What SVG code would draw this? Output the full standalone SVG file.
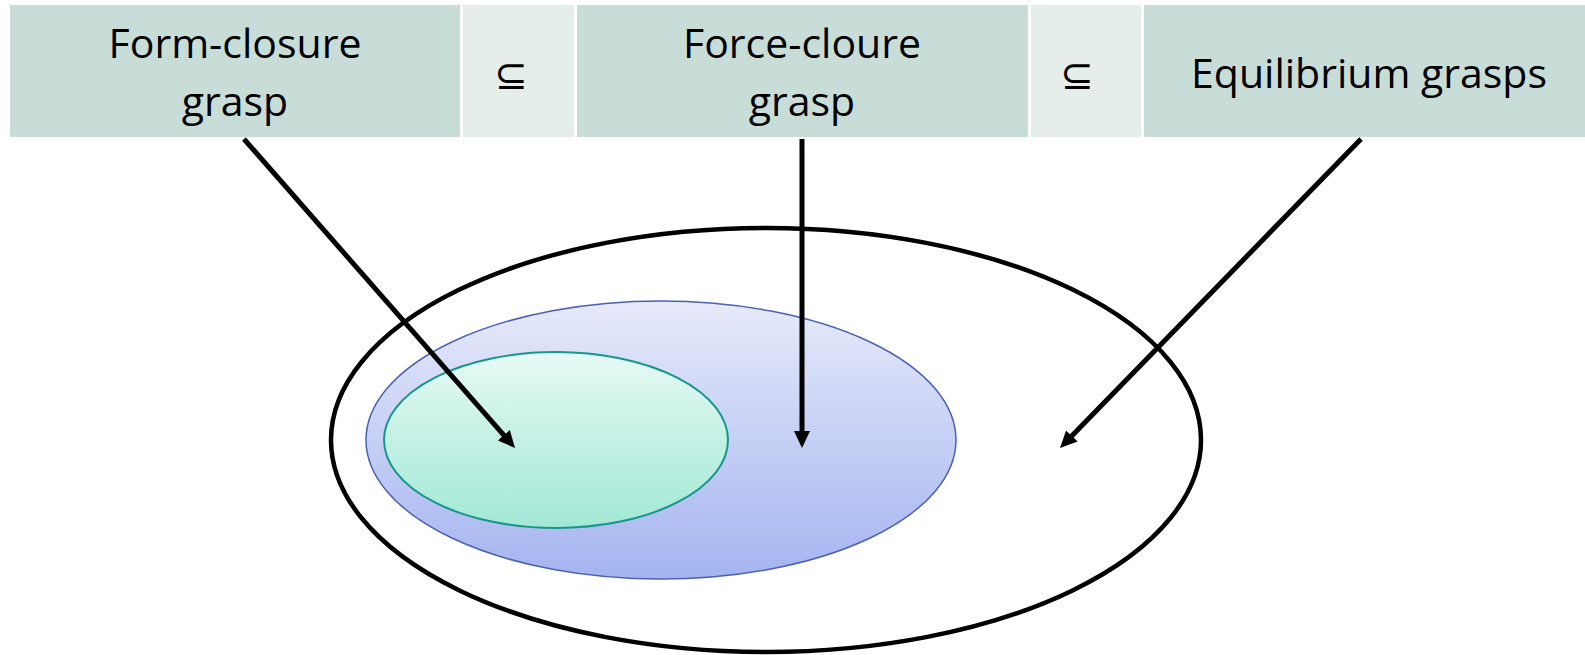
<svg xmlns="http://www.w3.org/2000/svg" width="1585" height="655" viewBox="0 0 1585 655">
  <style>
    .cell { fill: #C9DDD8; }
    .gap { fill: #E6EEEB; }
    .lbl { font-family: "Open Sans", "Liberation Sans", sans-serif; font-size: 41px; fill: #000; text-anchor: middle; }
    .sym { font-family: "DejaVu Sans", sans-serif; font-size: 40px; fill: #000; text-anchor: middle; }
    .conn { stroke: #000; stroke-width: 5; fill: none; marker-end: url(#ah); }
  </style>
  <defs>
    <marker id="ah" markerUnits="userSpaceOnUse" markerWidth="17" markerHeight="16" viewBox="0 0 17 16" refX="2" refY="8" orient="auto">
      <path d="M0,0 L17,8 L0,16 z" fill="#000"/>
    </marker>
    <linearGradient id="gBlue" x1="0" y1="0" x2="0" y2="1">
      <stop offset="0" stop-color="#E7EAFA"/>
      <stop offset="1" stop-color="#A4B4F0"/>
    </linearGradient>
    <linearGradient id="gGreen" x1="0" y1="0" x2="0" y2="1">
      <stop offset="0" stop-color="#E6FAF5"/>
      <stop offset="1" stop-color="#A2E8D4"/>
    </linearGradient>
  </defs>
  <rect width="1585" height="655" fill="#fff"/>

  <g id="header">
    <g id="cell-form-closure">
      <rect class="cell" x="10" y="5" width="450" height="132"/>
      <text class="lbl" x="235" y="58">Form-closure</text>
      <text class="lbl" x="235" y="116">grasp</text>
    </g>
    <g id="subset-1">
      <rect class="gap" x="463" y="5" width="111" height="132"/>
      <text class="sym" x="511" y="89">⊆</text>
    </g>
    <g id="cell-force-closure">
      <rect class="cell" x="577" y="5" width="451" height="132"/>
      <text class="lbl" x="802" y="58">Force-cloure</text>
      <text class="lbl" x="802" y="116">grasp</text>
    </g>
    <g id="subset-2">
      <rect class="gap" x="1031" y="5" width="110" height="132"/>
      <text class="sym" x="1077" y="89">⊆</text>
    </g>
    <g id="cell-equilibrium">
      <rect class="cell" x="1144" y="5" width="441" height="132"/>
      <text class="lbl" x="1369" y="88">Equilibrium grasps</text>
    </g>
  </g>

  <g id="set-equilibrium">
    <ellipse cx="766" cy="440" rx="435" ry="212" fill="#fff" stroke="#000" stroke-width="4.5"/>
  </g>
  <g id="set-force-closure">
    <ellipse cx="661" cy="440" rx="295" ry="139" fill="url(#gBlue)" stroke="#4A62B0" stroke-width="1.5"/>
  </g>
  <g id="set-form-closure">
    <ellipse cx="556" cy="440" rx="172" ry="88" fill="url(#gGreen)" stroke="#17968A" stroke-width="2"/>
  </g>

  <g id="connectors">
    <line class="conn" x1="244" y1="139" x2="505.1" y2="436.7"/>
    <line class="conn" x1="802" y1="139" x2="802" y2="433"/>
    <line class="conn" x1="1361" y1="139" x2="1070.5" y2="437.3"/>
  </g>
</svg>
